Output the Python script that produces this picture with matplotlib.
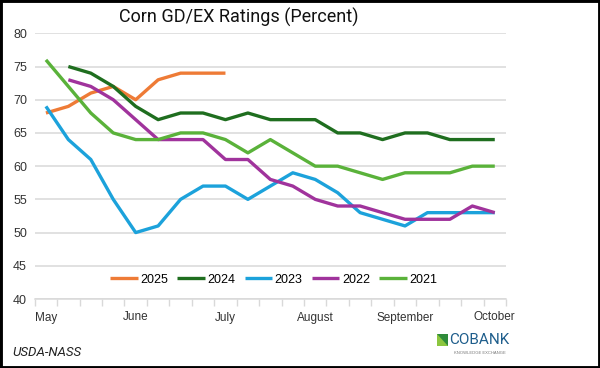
import matplotlib
matplotlib.use("Agg")
import matplotlib.pyplot as plt
from matplotlib.patches import Rectangle, Polygon
import numpy as np

# weekly crop condition, good/excellent share (%), 21 weeks May -> October
weeks = list(range(21))
month_labels = ['May', '', '', '', 'June', '', '', '', 'July', '', '', '',
                'August', '', '', '', 'September', '', '', '', 'October']

y2025 = [68, 69, 71, 72, 70, 73, 74, 74, 74]
y2024 = [None, 75, 74, 72, 69, 67, 68, 68, 67, 68, 67, 67, 67, 65, 65, 64, 65, 65, 64, 64, 64]
y2023 = [69, 64, 61, 55, 50, 51, 55, 57, 57, 55, 57, 59, 58, 56, 53, 52, 51, 53, 53, 53, 53]
y2022 = [None, 73, 72, 70, 67, 64, 64, 64, 61, 61, 58, 57, 55, 54, 54, 53, 52, 52, 52, 54, 53]
y2021 = [76, 72, 68, 65, 64, 64, 65, 65, 64, 62, 64, 62, 60, 60, 59, 58, 59, 59, 59, 60, 60]

series = [('2025', y2025, '#EE7B36'),
          ('2024', y2024, '#1F6E1F'),
          ('2023', y2023, '#1CA2DB'),
          ('2022', y2022, '#A0339C'),
          ('2021', y2021, '#5AB23A')]

plt.rcParams['font.family'] = ['Liberation Sans', 'DejaVu Sans']

fig = plt.figure(figsize=(6, 3.68), dpi=100)
# axes in pixel coordinates: x 34.7..506, y 33.3..299 (from top)
W, H = 600, 368
ax = fig.add_axes([34.7 / W, 1 - 299 / H, (506 - 34.7) / W, (299 - 33.3) / H])

for name, vals, col in series:
    v = np.array([np.nan if x is None else x for x in vals], dtype=float)
    ax.plot(weeks[:len(v)], v, color=col, lw=2.4, label=name,
            solid_capstyle='butt', solid_joinstyle='round')

ax.set_xlim(-0.5, 20.5)
ax.set_ylim(40, 80)
ax.set_yticks(range(40, 81, 5))
ax.grid(axis='y', color='#D9D9D9', lw=1.1)
ax.set_axisbelow(True)

ax.set_xticks(weeks)
ax.set_xticklabels(month_labels, fontsize=8.5, color='#333333')
ax.set_xticks(np.arange(-0.5, 21, 1), minor=True)
ax.tick_params(axis='x', which='major', length=0, pad=9)
ax.tick_params(axis='x', which='minor', length=5, color='#D9D9D9', width=1)
ax.tick_params(axis='y', length=0, pad=5.5, labelsize=9, labelcolor='#333333')

for s in ['top', 'right', 'left']:
    ax.spines[s].set_visible(False)
ax.spines['bottom'].set_color('#D9D9D9')
ax.spines['bottom'].set_linewidth(1.1)

ax.legend(loc='center', bbox_to_anchor=(0.507, 0.073), ncol=5, frameon=False,
          fontsize=9, handlelength=2.2, handletextpad=0.2, columnspacing=0.75,
          borderaxespad=0)

fig.text(239 / W, 1 - 17 / H, 'Corn GD/EX Ratings (Percent)', ha='center', va='center',
         fontsize=13, family=['Roboto', 'DejaVu Sans'], color='#111111')

fig.text(12 / W, 1 - 352 / H, 'USDA-NASS', ha='left', va='center', fontsize=9.5,
         style='italic', family=['Roboto', 'DejaVu Sans'], color='#222222')

# CoBank logo, roughly
x0, x1, ya, yb = 437, 448, 334, 346
fig.patches.append(Polygon([[x0 / W, 1 - ya / H], [x1 / W, 1 - ya / H],
                            [x1 / W, 1 - yb / H], [x0 / W, 1 - yb / H]],
                           closed=True, transform=fig.transFigure,
                           facecolor='#2E8B3A', edgecolor='none'))
fig.patches.append(Polygon([[x0 / W, 1 - ya / H], [x1 / W, 1 - yb / H],
                            [x0 / W, 1 - yb / H]],
                           closed=True, transform=fig.transFigure,
                           facecolor='#8CC63F', edgecolor='none'))
fig.text(449 / W, 1 - 340.5 / H, 'COBANK', ha='left', va='center', fontsize=11,
         color='#1F5E8C', family=['Roboto', 'DejaVu Sans'])
fig.text(480 / W, 1 - 352.5 / H, 'KNOWLEDGE EXCHANGE', ha='center', va='center',
         fontsize=3, color='#777777')

# black frame around the image
fig.patches.append(Rectangle((0, 0), 1, 1, transform=fig.transFigure, fill=False,
                             edgecolor='black', lw=3.5))

fig.savefig('out.png', dpi=100)
